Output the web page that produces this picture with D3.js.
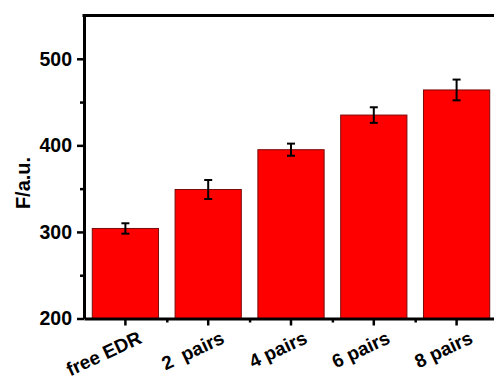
<!DOCTYPE html>
<html>
<head>
<meta charset="utf-8">
<script src="https://cdn.jsdelivr.net/npm/d3@7"></script>
<style>
  html, body { margin: 0; padding: 0; background: #fff; }
  svg { display: block; }
  text { font-family: "Liberation Sans", Arial, sans-serif; font-weight: bold; }
</style>
</head>
<body>
<svg id="chart" width="494" height="381"></svg>
<script>
const categories = ["free EDR", "2\u00A0\u00A0pairs", "4 pairs", "6 pairs", "8 pairs"];
const values = [304, 349, 395, 435, 464];
const errors = [6, 11, 7, 9, 12];
const yMajorTicks = [200, 300, 400, 500];
const yMinorTicks = [250, 350, 450];
const yLabel = "F/a.u.";
const labelAngle = -25;

const svg = d3.select("#chart");
const margin = { left: 84, top: 15.5, right: 498, bottom: 318.5 };
const FONT = "'Liberation Sans', Arial, sans-serif";

const x = d3.scaleBand()
  .domain(categories)
  .range([margin.left, margin.right])
  .paddingInner(0.2)
  .paddingOuter(0.1);

const xi = d3.scaleLinear()
  .domain([-0.5, categories.length - 0.5])
  .range([margin.left, margin.right]);

const y = d3.scaleLinear()
  .domain([200, 550])
  .range([margin.bottom, margin.top]);

// bars
svg.append("g").selectAll("rect")
  .data(categories)
  .join("rect")
  .attr("x", d => x(d))
  .attr("y", (d, i) => y(values[i]))
  .attr("width", x.bandwidth())
  .attr("height", (d, i) => y(200) - y(values[i]))
  .attr("fill", "#ff0000")
  .attr("stroke", "#7a0a0a")
  .attr("stroke-width", 1);

// error bars
const eg = svg.append("g").attr("stroke", "#000").attr("stroke-width", 2);
categories.forEach((c, i) => {
  const cx = x(c) + x.bandwidth() / 2;
  eg.append("line").attr("x1", cx).attr("x2", cx)
    .attr("y1", y(values[i] + errors[i])).attr("y2", y(values[i] - errors[i]));
  [values[i] + errors[i], values[i] - errors[i]].forEach(v => {
    eg.append("line").attr("x1", cx - 4).attr("x2", cx + 4)
      .attr("y1", y(v)).attr("y2", y(v));
  });
});

// top frame line
svg.append("line")
  .attr("x1", margin.left - 1.5).attr("x2", margin.right)
  .attr("y1", y(550)).attr("y2", y(550))
  .attr("stroke", "#000").attr("stroke-width", 3);

// y axis
const yAxis = svg.append("g")
  .attr("transform", `translate(${margin.left},0)`)
  .call(d3.axisLeft(y).tickValues(yMajorTicks).tickSize(7).tickPadding(5).tickSizeOuter(0).tickFormat(d3.format("d")));
yAxis.select(".domain").attr("stroke-width", 3);
yAxis.selectAll(".tick line").attr("stroke-width", 2.5);
yAxis.selectAll(".tick text").attr("font-size", 19.5).attr("fill", "#000")
  .style("font-family", FONT).style("font-weight", "bold");

const yMinor = svg.append("g")
  .attr("transform", `translate(${margin.left},0)`)
  .call(d3.axisLeft(y).tickValues(yMinorTicks).tickSize(4).tickFormat(""));
yMinor.select(".domain").remove();
yMinor.selectAll(".tick line").attr("stroke-width", 2.5);

// x axis
const xAxis = svg.append("g")
  .attr("transform", `translate(0,${margin.bottom})`)
  .call(d3.axisBottom(x).tickSize(7).tickSizeOuter(0).tickFormat(""));
xAxis.select(".domain").attr("stroke-width", 3);
xAxis.selectAll(".tick line").attr("stroke-width", 2.5);

// rotated category labels, positioned from the band scale
svg.append("g").selectAll("text")
  .data(categories)
  .join("text")
  .attr("transform", d => `translate(${x(d) + x.bandwidth() / 2 + 17.5},${margin.bottom + 24}) rotate(${labelAngle})`)
  .attr("text-anchor", "end")
  .attr("font-size", 19)
  .attr("fill", "#000")
  .style("font-family", FONT).style("font-weight", "bold")
  .text(d => d);

const xMinor = svg.append("g")
  .attr("transform", `translate(0,${margin.bottom})`)
  .call(d3.axisBottom(xi).tickValues(d3.range(1, categories.length).map(i => i - 0.5)).tickSize(4).tickFormat(""));
xMinor.select(".domain").remove();
xMinor.selectAll(".tick line").attr("stroke-width", 2.5);

// y label
svg.append("text")
  .attr("transform", `translate(29.5,183) rotate(-90)`)
  .attr("text-anchor", "middle")
  .attr("font-size", 20)
  .attr("fill", "#000")
  .text(yLabel);
</script>
</body>
</html>
